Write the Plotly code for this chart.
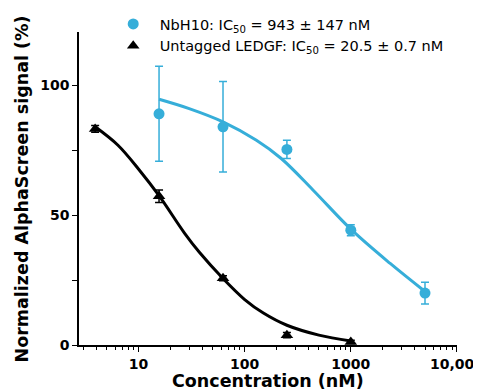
import plotly.graph_objects as go

# Measured points
conc_nb = [15.6, 62.5, 250, 1000, 5000]
sig_nb = [89.0, 84.0, 75.3, 44.2, 20.0]
err_nb = [18.3, 17.4, 3.5, 2.1, 4.2]

conc_ledgf = [3.9, 15.6, 62.5, 250, 1000]
sig_ledgf = [83.2, 57.3, 25.7, 3.8, 1.2]
err_ledgf = [1.3, 2.4, 1.0, 1.0, 0.6]

# Fitted curves
fit_nb_x = [15.6, 30, 62.5, 129, 221, 442, 1000, 2350, 5000]
fit_nb_y = [94.6, 91.0, 85.9, 78.8, 71.8, 59.6, 44.6, 31.4, 20.6]

fit_ledgf_x = [3.9, 6.4, 10.2, 15.6, 27.2, 37.6, 62.5, 100, 150, 250, 500, 1000]
fit_ledgf_y = [84.0, 76.9, 67.3, 57.5, 43.0, 35.6, 25.6, 17.5, 12.3, 7.6, 3.8, 1.5]

x_tickvals = [10, 100, 1000, 10000]
x_ticktext = ["10", "100", "1000", "10,000"]
x_minor = [m * d for d in (1, 10, 100, 1000) for m in range(2, 10)]
y_tickvals = [0, 50, 100]
y_minor = [25, 75]

x_title = "<b>Concentration (nM)</b>"
y_title = "<b>Normalized AlphaScreen signal (%)</b>"

BLUE = "#36AED9"
BLACK = "#000000"

fig = go.Figure()
fig.add_trace(go.Scatter(x=fit_nb_x, y=fit_nb_y, mode="lines",
                         line=dict(color=BLUE, width=3, shape="spline", smoothing=1.0),
                         showlegend=False, hoverinfo="skip"))
fig.add_trace(go.Scatter(x=fit_ledgf_x, y=fit_ledgf_y, mode="lines",
                         line=dict(color=BLACK, width=3, shape="spline", smoothing=1.0),
                         showlegend=False, hoverinfo="skip"))
fig.add_trace(go.Scatter(x=conc_nb, y=sig_nb, mode="markers",
                         marker=dict(symbol="circle", size=11, color=BLUE),
                         error_y=dict(type="data", array=err_nb, color=BLUE, thickness=1.5, width=4),
                         name="NbH10: IC<sub>50</sub> = 943 ± 147 nM"))
fig.add_trace(go.Scatter(x=conc_ledgf, y=sig_ledgf, mode="markers",
                         marker=dict(symbol="triangle-up", size=11, color=BLACK),
                         error_y=dict(type="data", array=err_ledgf, color=BLACK, thickness=1.5, width=4),
                         name="Untagged LEDGF: IC<sub>50</sub> = 20.5 ± 0.7 nM"))

fig.update_layout(
    width=473, height=382,
    margin=dict(l=71, r=24, t=24, b=45, autoexpand=False),
    plot_bgcolor="white", paper_bgcolor="white",
    font=dict(family="DejaVu Sans", color="black"),
    showlegend=True,
    legend=dict(xref="container", yref="container", x=0.2087, y=1.0,
                xanchor="left", yanchor="top", itemwidth=43,
                font=dict(size=14.5, family="DejaVu Sans"),
                bgcolor="rgba(0,0,0,0)", tracegroupgap=0),
    annotations=[
        dict(text=x_title, xref="paper", yref="paper", x=0.5, y=-0.115,
             xanchor="center", yanchor="middle", showarrow=False,
             font=dict(size=17.5, family="DejaVu Sans", color="black")),
        dict(text=y_title, xref="paper", yref="paper", x=-0.1508, y=0.5,
             xanchor="center", yanchor="middle", showarrow=False, textangle=-90,
             font=dict(size=17.5, family="DejaVu Sans", color="black")),
    ],
)
fig.update_xaxes(
    type="log", range=[0.439, 4.0005], automargin=False,
    tickvals=x_tickvals, ticktext=x_ticktext, ticklabeloverflow="allow",
    ticks="outside", ticklen=5, tickwidth=1.3, tickcolor="black",
    minor=dict(tickvals=x_minor, ticks="outside", ticklen=3, tickwidth=1, tickcolor="black"),
    showline=True, linecolor="black", linewidth=1.5, showgrid=False, zeroline=False,
    tickfont=dict(size=14, family="DejaVu Sans", weight="bold"),
)
fig.update_yaxes(
    range=[0, 120.5], automargin=False,
    tickvals=y_tickvals,
    ticks="outside", ticklen=5, tickwidth=1.3, tickcolor="black",
    minor=dict(tickvals=y_minor, ticks="outside", ticklen=5, tickwidth=1.3, tickcolor="black"),
    showline=True, linecolor="black", linewidth=1.5, showgrid=False, zeroline=False,
    tickfont=dict(size=14, family="DejaVu Sans", weight="bold"),
)

fig.write_html("out.html")
